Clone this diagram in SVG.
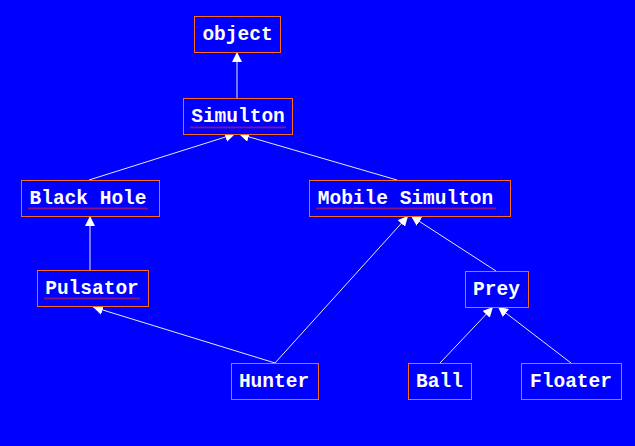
<svg xmlns="http://www.w3.org/2000/svg" width="635" height="446" viewBox="0 0 635 446">
<defs>
<marker id="arr" viewBox="0 0 10 10" refX="10" refY="5" markerWidth="10" markerHeight="10" markerUnits="userSpaceOnUse" orient="auto">
<path d="M0,0 L10,5 L0,10 Z" fill="#ffffff"/>
</marker>
<pattern id="sq" width="4" height="3" patternUnits="userSpaceOnUse">
<path d="M0,2.5 L1,0.5 L2,2.5 L3,0.5 L4,2.5" fill="none" stroke="#e02030" stroke-width="0.6"/>
</pattern>
</defs>
<style>
.box{fill:#0000ff;stroke:#ff6a20;stroke-width:1}
.lbl{font-family:"Liberation Mono","DejaVu Sans Mono",monospace;font-size:19.5px;font-weight:bold;fill:#ffffff;text-anchor:middle}
.edge{stroke:#e8e8ff;stroke-width:1;fill:none;marker-end:url(#arr)}
.sq{fill:url(#sq)}
</style>
<rect width="635" height="446" fill="#0000ff"/>
<g id="connectors">
<line class="edge" x1="237" y1="98" x2="237" y2="52"/>
<line class="edge" x1="89" y1="180" x2="235" y2="134"/>
<line class="edge" x1="397" y1="180" x2="239" y2="134"/>
<line class="edge" x1="90" y1="270" x2="90" y2="216"/>
<line class="edge" x1="275" y1="363" x2="93" y2="307"/>
<line class="edge" x1="275" y1="363" x2="408" y2="216"/>
<line class="edge" x1="496" y1="271" x2="411" y2="216"/>
<line class="edge" x1="440" y1="363" x2="493" y2="307"/>
<line class="edge" x1="571" y1="363" x2="498" y2="307"/>
</g>
<g id="object"><rect class="box" x="194.5" y="16.5" width="86" height="36"/><text class="lbl" x="237.5" y="40">object</text></g>
<g id="simulton"><rect class="box" x="183.5" y="98.5" width="109" height="36"/><rect class="sq" x="190" y="126" width="96" height="3"/><text class="lbl" x="238" y="122">Simulton</text></g>
<g id="blackhole"><rect class="box" x="21.5" y="180.5" width="138" height="36"/><rect class="sq" x="28" y="207" width="120" height="3"/><text class="lbl" x="88" y="204">Black Hole</text></g>
<g id="mobilesimulton"><rect class="box" x="309.5" y="180.5" width="201" height="36"/><rect class="sq" x="316" y="207" width="180" height="3"/><text class="lbl" x="405.5" y="204">Mobile Simulton</text></g>
<g id="pulsator"><rect class="box" x="37.5" y="270.5" width="111" height="36"/><rect class="sq" x="44" y="297" width="96" height="3"/><text class="lbl" x="92" y="294">Pulsator</text></g>
<g id="prey"><rect class="box" x="465.5" y="271.5" width="63" height="36"/><text class="lbl" x="496.5" y="295">Prey</text></g>
<g id="hunter"><rect class="box" x="231.5" y="363.5" width="87" height="36"/><text class="lbl" x="274" y="387">Hunter</text></g>
<g id="ball"><rect class="box" x="408.5" y="363.5" width="63" height="36"/><text class="lbl" x="439.5" y="387">Ball</text></g>
<g id="floater"><rect class="box" x="521.5" y="363.5" width="100" height="36"/><text class="lbl" x="571" y="387">Floater</text></g>
</svg>
